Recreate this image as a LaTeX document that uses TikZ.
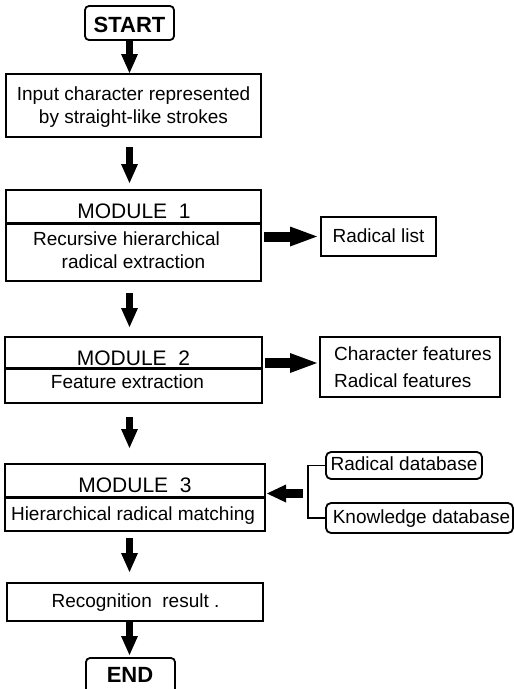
\documentclass[tikz,border=0pt]{standalone}
\usepackage{fontspec}
\setmainfont{Liberation Sans}
\usetikzlibrary{arrows.meta,calc}
\begin{document}
\begin{tikzpicture}[x=1pt,y=-1pt,
  box/.style={draw, line width=1.8pt, inner sep=0pt, outer sep=0pt, anchor=north west},
  rbox/.style={box, rounded corners=4pt},
  divider/.style={line width=3pt},
  txt/.style={inner sep=0pt, anchor=base, font=\fontsize{19}{23}\selectfont},
  ltxt/.style={txt, anchor=base west},
  title/.style={txt, font=\fontsize{21}{25}\selectfont},
  term/.style={txt, font=\fontsize{22}{26}\selectfont\bfseries},
  vArrow/.style={line width=7pt, -{Triangle[width=17pt,length=19pt,line width=0pt]}},
  hArrow/.style={line width=10pt, -{Triangle[width=20pt,length=27pt,line width=0pt]}},
  lArrow/.style={line width=9pt, -{Triangle[width=18pt,length=19pt,line width=0pt]}},
  bracket/.style={line width=1.8pt}
]
\useasboundingbox (0,0) rectangle (514,689);

% boxes
\node[rbox, minimum width=89pt, minimum height=34pt] (start) at (85,6) {};
\node[box, minimum width=255pt, minimum height=63pt] (input) at (6,74) {};
\node[box, minimum width=255pt, minimum height=91pt] (mod1) at (6,190) {};
\node[box, minimum width=115pt, minimum height=39pt] (rlist) at (321,217) {};
\node[box, minimum width=257pt, minimum height=66pt] (mod2) at (5,337) {};
\node[box, minimum width=180pt, minimum height=60pt] (feat) at (320,337) {};
\node[box, minimum width=260pt, minimum height=67pt] (mod3) at (5,464) {};
\node[rbox, rounded corners=5pt, minimum width=156pt, minimum height=27pt] (raddb) at (326,452) {};
\node[rbox, rounded corners=5pt, minimum width=187pt, minimum height=30pt] (knowdb) at (326,503) {};
\node[box, minimum width=256pt, minimum height=38pt] (result) at (7,583) {};
\node[rbox, minimum width=89pt, minimum height=45pt] (endbox) at (86,658) {};

% module title dividers
\draw[divider] ([yshift=-33pt]mod1.north west) -- ([yshift=-33pt]mod1.north east);
\draw[divider] ([yshift=-31pt]mod2.north west) -- ([yshift=-31pt]mod2.north east);
\draw[divider] ([yshift=-33pt]mod3.north west) -- ([yshift=-33pt]mod3.north east);

% texts
\node[term] (tstart) at (129.5,32) {START};
\node[txt] (tin1) at (133.5,100) {Input character represented};
\node[txt] (tin2) at (133.5,123) {by straight-like strokes};
\node[title] (tm1) at (134,218) {MODULE~~1};
\node[txt] (tm1a) at (126.5,245) {Recursive hierarchical};
\node[txt] (tm1b) at (133.5,268) {radical extraction};
\node[txt] (trl) at (378.5,242) {Radical list};
\node[title] (tm2) at (133.5,365) {MODULE~~2};
\node[txt] (tm2a) at (127.5,388) {Feature extraction};
\node[ltxt] (tf1) at (334,360) {Character features};
\node[ltxt] (tf2) at (334,387) {Radical features};
\node[title] (tm3) at (135,492) {MODULE~~3};
\node[txt] (tm3a) at (133,520) {Hierarchical radical matching};
\node[txt] (trdb) at (404,470) {Radical database};
\node[txt] (tkdb) at (421.5,523) {Knowledge database};
\node[txt] (tres) at (135.5,607) {Recognition~~result~.};
\node[term] (tend) at (130,682) {END};

% main flow
\draw[vArrow, shorten >=1pt] (start.south) -- (input.north -| start.south);
\draw[vArrow, shorten <=10pt, shorten >=7pt] (input.south -| start.south) -- (mod1.north -| start.south);
\draw[vArrow, shorten <=12pt, shorten >=10pt] (mod1.south -| start.south) -- (mod2.north -| start.south);
\draw[vArrow, shorten <=14pt, shorten >=16pt] (mod2.south -| start.south) -- (mod3.north -| start.south);
\draw[vArrow, shorten <=7pt, shorten >=11pt] (mod3.south -| start.south) -- (result.north -| start.south);
\draw[vArrow, shorten >=3pt] (result.south -| start.south) -- (endbox.north -| start.south);

% outputs of modules 1 and 2
\draw[hArrow, shorten <=3pt, shorten >=4pt] (mod1.east |- rlist.west) -- (rlist.west);
\draw[hArrow, shorten <=3pt, shorten >=3pt] ($(mod2.east |- feat.west)+(0,-4)$) -- ($(feat.west)+(0,-4)$);

% databases feeding module 3
\draw[bracket] (raddb.west) -- ++(-18,0) |- (knowdb.west);
\coordinate (fork) at ($(raddb.west)+(-18,28)$);
\draw[lArrow, shorten <=5pt, shorten >=2pt] (fork) -- (fork -| mod3.east);
\end{tikzpicture}
\end{document}
